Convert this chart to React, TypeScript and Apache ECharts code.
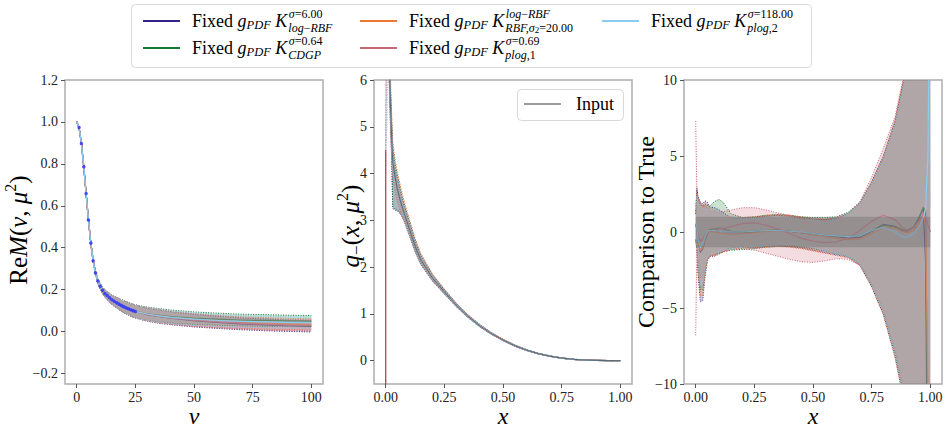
import React, { useEffect, useRef } from "react";
import * as echarts from "echarts";

const SERIF = "'Liberation Serif', 'DejaVu Serif', serif";
const KERNEL_COLORS = ["#332288", "#117733", "#EE7733", "#CC6677", "#88CCEE"];

// ---------- Left panel: Re M(nu, mu^2) ----------
const L_NU = [0, 1, 2, 3, 4, 5, 6, 7, 8, 9, 10, 11, 12, 13, 14, 15, 16, 17, 18, 19, 20, 21, 22, 23, 24, 25, 30, 35, 40, 50, 60, 70, 80, 90, 100];
const L_HEAD = [1.0, 0.973, 0.897, 0.786, 0.659, 0.532, 0.422, 0.338, 0.28, 0.241, 0.216, 0.197, 0.182, 0.172, 0.161, 0.152, 0.145, 0.138, 0.131, 0.125, 0.119, 0.114, 0.109, 0.104, 0.1, 0.096];
const L_TAIL_NAVY = [0.081, 0.072, 0.064, 0.052, 0.044, 0.037, 0.032, 0.028, 0.025];
const L_TAIL_GREEN = [0.085, 0.078, 0.072, 0.064, 0.059, 0.055, 0.053, 0.051, 0.05];
const L_TAIL_ORANGE = [0.083, 0.074, 0.066, 0.056, 0.048, 0.043, 0.039, 0.036, 0.034];
const L_TAIL_PINK = [0.082, 0.073, 0.065, 0.054, 0.046, 0.04, 0.035, 0.031, 0.029];
const L_TAIL_LIGHTBLUE = [0.084, 0.075, 0.068, 0.059, 0.053, 0.049, 0.046, 0.044, 0.043];
const L_ERR = [0.003, 0.003, 0.004, 0.004, 0.005, 0.006, 0.007, 0.008, 0.009, 0.011, 0.013, 0.015, 0.017, 0.019, 0.021, 0.023, 0.024, 0.025, 0.026, 0.027, 0.028, 0.029, 0.03, 0.03, 0.031, 0.031, 0.032, 0.032, 0.031, 0.03, 0.029, 0.028, 0.028, 0.027, 0.027];
const L_DOT_NU = [1, 2, 3, 4, 5, 6, 7, 8, 9, 10, 11, 12, 13, 14, 15, 16, 17, 18, 19, 20, 21, 22, 23, 24, 25];
const L_DOT_VAL = [0.973, 0.897, 0.786, 0.659, 0.532, 0.422, 0.338, 0.28, 0.241, 0.216, 0.197, 0.182, 0.172, 0.161, 0.152, 0.145, 0.138, 0.131, 0.125, 0.119, 0.114, 0.109, 0.104, 0.1, 0.096];
const L_X_TICKS = [0, 25, 50, 75, 100];
const L_Y_TICKS = [-0.2, 0, 0.2, 0.4, 0.6, 0.8, 1.0, 1.2];

// ---------- Middle panel: q_-(x, mu^2) ----------
const M_X = [0, 0.005, 0.01, 0.015, 0.02, 0.025, 0.03, 0.04, 0.05, 0.06, 0.07, 0.08, 0.1, 0.125, 0.15, 0.2, 0.25, 0.3, 0.35, 0.4, 0.45, 0.5, 0.55, 0.6, 0.65, 0.7, 0.75, 0.8, 0.85, 0.9, 0.95, 1.0];
const M_INPUT = [12, 9.5, 7.6, 6.4, 5.5, 4.8, 4.25, 3.92, 3.66, 3.46, 3.29, 3.13, 2.83, 2.45, 2.15, 1.76, 1.47, 1.19, 0.95, 0.75, 0.58, 0.44, 0.32, 0.225, 0.15, 0.095, 0.055, 0.028, 0.012, 0.004, 0.001, 0];
const M_NAVY_HI = [13, 10, 8, 6.7, 5.8, 5.1, 4.5, 4.15, 3.9, 3.68, 3.48, 3.3, 2.97, 2.56, 2.24, 1.82, 1.51, 1.22, 0.97, 0.77, 0.595, 0.45, 0.33, 0.232, 0.155, 0.099, 0.058, 0.03, 0.013, 0.005, 0.0015, 0.0005];
const M_NAVY_LO = [11, 9, 7.2, 6.1, 5.2, 4.4, 3.25, 3.22, 3.2, 3.15, 3.08, 2.98, 2.7, 2.34, 2.06, 1.7, 1.43, 1.16, 0.93, 0.73, 0.565, 0.43, 0.31, 0.218, 0.145, 0.091, 0.052, 0.026, 0.011, 0.003, 0.0005, -0.0005];
const M_GREEN_HI = [13, 10, 8, 6.8, 5.85, 5.15, 4.55, 4.2, 3.95, 3.72, 3.5, 3.32, 2.99, 2.58, 2.26, 1.83, 1.52, 1.23, 0.98, 0.775, 0.6, 0.455, 0.335, 0.234, 0.157, 0.1, 0.059, 0.031, 0.014, 0.005, 0.0015, 0.0005];
const M_GREEN_LO = [11, 9, 7.3, 6.1, 5.2, 4.45, 3.3, 3.24, 3.21, 3.18, 3.1, 3.0, 2.71, 2.35, 2.07, 1.71, 1.43, 1.16, 0.93, 0.73, 0.565, 0.43, 0.31, 0.218, 0.145, 0.091, 0.052, 0.026, 0.011, 0.003, 0.0005, -0.0005];
const M_ORANGE_HI = [13.5, 10.5, 8.4, 7.0, 6.05, 5.35, 4.7, 4.3, 4.02, 3.8, 3.58, 3.4, 3.05, 2.62, 2.29, 1.85, 1.53, 1.235, 0.985, 0.78, 0.605, 0.46, 0.338, 0.236, 0.158, 0.101, 0.06, 0.031, 0.014, 0.005, 0.0015, 0.0005];
const M_ORANGE_LO = [10.5, 8.8, 7.0, 5.9, 5.1, 4.5, 4.0, 3.7, 3.45, 3.28, 3.12, 2.98, 2.7, 2.34, 2.06, 1.7, 1.43, 1.16, 0.93, 0.73, 0.565, 0.43, 0.31, 0.218, 0.145, 0.091, 0.052, 0.026, 0.011, 0.003, 0.0005, -0.0005];
const M_PINK_HI = [4.5, 9.8, 7.9, 6.6, 5.7, 5.0, 4.45, 4.1, 3.85, 3.64, 3.45, 3.28, 2.95, 2.55, 2.24, 1.83, 1.52, 1.23, 0.98, 0.775, 0.6, 0.455, 0.335, 0.234, 0.157, 0.1, 0.059, 0.031, 0.014, 0.005, 0.0015, 0.0005];
const M_PINK_LO = [4.0, 8.8, 7.0, 5.9, 5.0, 4.35, 3.9, 3.6, 3.4, 3.22, 3.06, 2.94, 2.68, 2.33, 2.05, 1.69, 1.42, 1.15, 0.92, 0.72, 0.56, 0.425, 0.305, 0.215, 0.143, 0.09, 0.051, 0.025, 0.01, 0.003, 0.0005, -0.0005];
const M_LIGHTBLUE_HI = [6.5, 10, 8, 6.7, 5.8, 5.1, 4.5, 4.15, 3.9, 3.68, 3.48, 3.3, 2.97, 2.56, 2.24, 1.82, 1.51, 1.22, 0.97, 0.77, 0.595, 0.45, 0.33, 0.232, 0.155, 0.099, 0.058, 0.03, 0.013, 0.005, 0.0015, 0.0005];
const M_LIGHTBLUE_LO = [4.5, 5.0, 6.6, 6.0, 5.2, 4.5, 4.0, 3.7, 3.45, 3.28, 3.12, 2.98, 2.7, 2.34, 2.06, 1.7, 1.43, 1.16, 0.93, 0.73, 0.565, 0.43, 0.31, 0.218, 0.145, 0.091, 0.052, 0.026, 0.011, 0.003, 0.0005, -0.0005];
const M_PINK_EDGE_X = [0, 0];
const M_PINK_EDGE_Y = [-0.6, 4.5];
const M_X_TICKS = [0, 0.25, 0.5, 0.75, 1.0];
const M_Y_TICKS = [0, 1, 2, 3, 4, 5, 6];

// ---------- Right panel: comparison to true ----------
const R_X = [0, 0.005, 0.01, 0.02, 0.03, 0.04, 0.05, 0.06, 0.08, 0.1, 0.12, 0.15, 0.2, 0.25, 0.3, 0.35, 0.4, 0.45, 0.5, 0.55, 0.6, 0.65, 0.7, 0.75, 0.8, 0.85, 0.88, 0.9, 0.93, 0.95, 0.97, 0.98, 0.99, 1.0];
const R_NAVY_MEAN = [0.5, 0.3, -0.6, -1.3, -1.1, -0.5, -0.1, 0.1, 0.1, 0.05, 0.0, -0.05, -0.05, 0.0, 0.1, 0.12, 0.05, -0.05, -0.15, -0.25, -0.3, -0.4, -0.35, 0.05, 0.5, 0.35, 0.1, 0.05, 0.3, 0.8, 1.6, -2, -20, -40];
const R_NAVY_HI = [1.2, 2.9, 2.3, 1.95, 1.85, 2.05, 1.95, 1.65, 1.6, 1.45, 1.25, 0.95, 0.9, 0.95, 1.05, 1.1, 1.05, 0.95, 0.85, 0.8, 0.9, 1.2, 1.9, 3.3, 5.0, 7.3, 9.5, 11, 15, 20, 28, 35, 40, 45];
const R_NAVY_LO = [-0.5, -1.0, -2.8, -4.6, -4.5, -2.9, -1.9, -1.6, -1.6, -1.45, -1.25, -1.05, -1.0, -1.05, -0.95, -0.9, -0.95, -1.05, -1.2, -1.35, -1.5, -1.65, -2.2, -3.6, -5.4, -8.2, -10.5, -12, -16, -22, -30, -38, -45, -50];
const R_GREEN_MEAN = [0.5, 0.2, -0.5, -1.0, -0.9, -0.4, 0.0, 0.15, 0.2, 0.25, 0.2, 0.05, 0.0, 0.05, 0.1, 0.1, 0.05, -0.05, -0.1, -0.2, -0.25, -0.3, -0.25, 0.05, 0.45, 0.35, 0.15, 0.1, 0.35, 0.9, 1.6, 1.4, -15, -40];
const R_GREEN_HI = [1.2, 2.7, 2.2, 1.8, 1.7, 1.8, 1.75, 1.7, 2.0, 2.15, 1.9, 1.2, 0.95, 1.0, 1.1, 1.15, 1.1, 1.0, 0.95, 0.95, 1.0, 1.3, 1.95, 3.2, 4.9, 7.2, 9.4, 11, 15, 20, 28, 35, 40, 45];
const R_GREEN_LO = [-0.5, -1.0, -2.5, -3.8, -3.8, -2.6, -1.8, -1.6, -1.5, -1.4, -1.3, -1.2, -1.15, -1.1, -1.0, -0.95, -0.95, -1.0, -1.1, -1.25, -1.45, -1.6, -2.1, -3.5, -5.3, -8.0, -10.3, -12, -16, -22, -30, -38, -45, -50];
const R_ORANGE_MEAN = [0.5, 0.2, -0.7, -1.2, -1.0, -0.4, -0.05, 0.05, 0.0, -0.05, -0.1, -0.15, -0.1, -0.05, 0.05, 0.1, 0.05, -0.05, -0.15, -0.3, -0.4, -0.5, -0.45, -0.1, 0.3, 0.25, 0.05, -0.05, 0.1, 0.5, 1.2, 0.5, -10, -30];
const R_ORANGE_HI = [1.3, 2.6, 2.2, 1.85, 1.75, 1.9, 1.8, 1.55, 1.45, 1.3, 1.15, 1.0, 0.95, 1.0, 1.1, 1.15, 1.1, 1.0, 0.9, 0.85, 0.9, 1.2, 1.85, 3.25, 5.0, 7.4, 9.6, 11, 15, 20, 28, 35, 40, 45];
const R_ORANGE_LO = [-0.6, -1.1, -2.6, -4.2, -4.2, -2.7, -1.9, -1.6, -1.55, -1.45, -1.3, -1.15, -1.05, -1.05, -1.0, -0.95, -1.0, -1.1, -1.25, -1.4, -1.55, -1.7, -2.2, -3.6, -5.5, -8.3, -10.6, -12, -16, -22, -30, -38, -45, -50];
const R_PINK_MEAN = [0.5, 0.3, -0.3, -0.6, -0.5, -0.2, 0.0, 0.1, 0.15, 0.2, 0.25, 0.35, 0.55, 0.6, 0.45, 0.2, -0.1, -0.4, -0.6, -0.7, -0.65, -0.4, 0.1, 0.7, 1.1, 0.8, 0.3, 0.1, 0.3, 0.7, 1.2, 1.0, 0.5, 0.0];
const R_PINK_HI = [7.3, 2.6, 2.3, 1.9, 1.7, 1.7, 1.6, 1.4, 1.35, 1.3, 1.35, 1.45, 1.6, 1.6, 1.45, 1.25, 1.1, 0.95, 0.85, 0.85, 0.95, 1.25, 2.0, 3.6, 5.5, 7.6, 9.8, 11, 15, 20, 28, 35, 40, 45];
const R_PINK_LO = [-6.8, -1.2, -2.0, -3.0, -3.0, -2.3, -1.8, -1.6, -1.5, -1.4, -1.3, -1.15, -1.1, -1.2, -1.4, -1.6, -1.8, -1.95, -2.0, -1.9, -1.75, -1.8, -2.2, -3.4, -5.2, -7.8, -10, -12, -16, -22, -30, -38, -45, -50];
const R_LIGHTBLUE_MEAN = [0.6, 0.3, -0.5, -1.0, -0.8, -0.3, 0.05, 0.1, 0.1, 0.05, 0.0, 0.0, 0.0, 0.05, 0.1, 0.1, 0.05, 0.0, -0.1, -0.2, -0.25, -0.3, -0.25, 0.1, 0.3, 0.0, -0.3, -0.35, -0.1, 0.3, 0.9, 1.5, 5, 20];
const R_LIGHTBLUE_HI = [1.5, 2.4, 2.0, 1.6, 1.5, 1.6, 1.55, 1.45, 1.4, 1.3, 1.15, 1.0, 0.9, 0.9, 0.95, 1.0, 0.9, 0.75, 0.85, 0.6, 0.9, 1.2, 1.9, 3.2, 4.9, 7.2, 9.3, 11, 15, 20, 28, 35, 40, 1.5];
const R_LIGHTBLUE_LO = [-0.3, -1.0, -2.4, -3.5, -3.3, -2.3, -1.7, -1.5, -1.4, -1.3, -1.2, -1.1, -1.0, -0.95, -0.9, -0.85, -0.8, -0.9, -1.0, -1.25, -1.45, -1.6, -2.1, -3.5, -5.3, -8.1, -10.4, -12, -16, -22, -30, -38, -45, -50];
const R_BAND_X = [0, 1];
const R_BAND_Y = [-1, 1];
const R_Y_TICKS = [-10, -5, 0, 5, 10];

// ---------- legend text ----------
const LEGEND_SUP = ["{i|σ}{n|=6.00}", "{i|σ}{n|=0.64}", "{i|log}{n|−}{i|RBF}", "{i|σ}{n|=0.69}", "{i|σ}{n|=118.00}"];
const LEGEND_SUB = ["{i|log}{n|−}{i|RBF}", "{i|CDGP}", "{i|RBF,σ}{ss|2}{n|=20.00}", "{i|plog}{n|,1}", "{i|plog}{n|,2}"];

const fmtMinus = (s: string) => s.replace("-", "−");

function bandSeries(idx: number, xs: number[], mean: number[], lo: number[], hi: number[], color: string) {
  return {
    type: "custom",
    xAxisIndex: idx,
    yAxisIndex: idx,
    silent: true,
    z: 2,
    data: [[xs[0], 0]],
    renderItem: (params: any, api: any) => {
      const cs = params.coordSys;
      const top = xs.map((x, i) => api.coord([x, hi[i]]));
      const bot = xs.map((x, i) => api.coord([x, lo[i]]));
      const mid = xs.map((x, i) => api.coord([x, mean[i]]));
      return {
        type: "group",
        clipPath: { type: "rect", shape: { x: cs.x, y: cs.y, width: cs.width, height: cs.height } },
        children: [
          { type: "polygon", shape: { points: top.concat(bot.slice().reverse()) }, style: { fill: color, opacity: 0.22 } },
          { type: "polyline", shape: { points: top }, style: { stroke: color, lineWidth: 1, lineDash: [1, 1.5], fill: null } },
          { type: "polyline", shape: { points: bot }, style: { stroke: color, lineWidth: 1, lineDash: [1, 1.5], fill: null } },
          { type: "polyline", shape: { points: mid }, style: { stroke: color, lineWidth: 1.2, fill: null } },
        ],
      };
    },
  };
}

function axisPair(idx: number, xmin: number, xmax: number, xt: number[], xf: (v: number) => string, ymin: number, ymax: number, yt: number[], yf: (v: number) => string) {
  const common = {
    type: "value",
    gridIndex: idx,
    splitLine: { show: false },
    axisLine: { show: false, onZero: false },
  };
  const label = { fontFamily: SERIF, fontSize: 14, color: "#222", lineHeight: 14 };
  return {
    x: {
      ...common,
      min: xmin,
      max: xmax,
      axisTick: { show: true, length: 4, lineStyle: { color: "#555" }, customValues: xt },
      axisLabel: { ...label, margin: 6, customValues: xt, formatter: xf },
    },
    y: {
      ...common,
      min: ymin,
      max: ymax,
      axisTick: { show: true, length: 4, lineStyle: { color: "#555" }, customValues: yt },
      axisLabel: { ...label, margin: 7, customValues: yt, formatter: yf },
    },
  };
}

export default function App() {
  const ref = useRef<HTMLDivElement>(null);
  useEffect(() => {
    if (!ref.current) return;
    const chart = echarts.init(ref.current, null, { renderer: "svg", width: 947, height: 429 });

    const lMeans = [L_TAIL_NAVY, L_TAIL_GREEN, L_TAIL_ORANGE, L_TAIL_PINK, L_TAIL_LIGHTBLUE].map((t) => L_HEAD.concat(t));
    const mHi = [M_NAVY_HI, M_GREEN_HI, M_ORANGE_HI, M_PINK_HI, M_LIGHTBLUE_HI];
    const mLo = [M_NAVY_LO, M_GREEN_LO, M_ORANGE_LO, M_PINK_LO, M_LIGHTBLUE_LO];
    const rMean = [R_NAVY_MEAN, R_GREEN_MEAN, R_ORANGE_MEAN, R_PINK_MEAN, R_LIGHTBLUE_MEAN];
    const rHi = [R_NAVY_HI, R_GREEN_HI, R_ORANGE_HI, R_PINK_HI, R_LIGHTBLUE_HI];
    const rLo = [R_NAVY_LO, R_GREEN_LO, R_ORANGE_LO, R_PINK_LO, R_LIGHTBLUE_LO];

    const series: any[] = [];
    KERNEL_COLORS.forEach((c, k) => {
      const m = lMeans[k];
      series.push(bandSeries(0, L_NU, m, m.map((v, i) => v - L_ERR[i]), m.map((v, i) => v + L_ERR[i]), c));
    });
    series.push({
      type: "scatter",
      xAxisIndex: 0,
      yAxisIndex: 0,
      z: 5,
      symbolSize: 3.5,
      itemStyle: { color: "#2a2aff" },
      data: L_DOT_NU.map((n, i) => [n, L_DOT_VAL[i]]),
    });
    KERNEL_COLORS.forEach((c, k) => {
      series.push(bandSeries(1, M_X, M_INPUT, mLo[k], mHi[k], c));
    });
    series.push({
      type: "line",
      xAxisIndex: 1,
      yAxisIndex: 1,
      z: 4,
      showSymbol: false,
      clip: true,
      lineStyle: { color: "rgba(70,70,70,0.75)", width: 1 },
      data: M_X.map((x, i) => [x, M_INPUT[i]]),
    });
    series.push({
      type: "line",
      xAxisIndex: 1,
      yAxisIndex: 1,
      z: 4,
      showSymbol: false,
      clip: true,
      lineStyle: { color: "#a33a4f", width: 1.2 },
      data: M_PINK_EDGE_X.map((x, i) => [x, M_PINK_EDGE_Y[i]]),
    });
    KERNEL_COLORS.forEach((c, k) => {
      series.push(bandSeries(2, R_X, rMean[k], rLo[k], rHi[k], c));
    });
    series.push({
      type: "custom",
      xAxisIndex: 2,
      yAxisIndex: 2,
      silent: true,
      z: 3,
      data: [[0, 0]],
      renderItem: (params: any, api: any) => {
        const p0 = api.coord([R_BAND_X[0], R_BAND_Y[1]]);
        const p1 = api.coord([R_BAND_X[1], R_BAND_Y[0]]);
        return {
          type: "rect",
          shape: { x: p0[0], y: p0[1], width: p1[0] - p0[0], height: p1[1] - p0[1] },
          style: { fill: "rgba(105,105,105,0.38)" },
        };
      },
    });

    const a0 = axisPair(0, -5, 105, L_X_TICKS, (v) => String(v), -0.25, 1.2, L_Y_TICKS, (v) => fmtMinus(v.toFixed(1)));
    const a1 = axisPair(1, -0.05, 1.05, M_X_TICKS, (v) => v.toFixed(2), -0.5, 6, M_Y_TICKS, (v) => String(v));
    const a2 = axisPair(2, -0.05, 1.05, M_X_TICKS, (v) => v.toFixed(2), -10, 10, R_Y_TICKS, (v) => fmtMinus(String(v)));

    const gridBase = { show: true, borderColor: "#adadad", borderWidth: 1.5, backgroundColor: "transparent", top: 80, height: 304, width: 258 };

    // ---- legend graphics ----
    const ctx = document.createElement("canvas").getContext("2d") as CanvasRenderingContext2D;
    const tw = (s: string, f: string) => {
      ctx.font = f;
      return ctx.measureText(s).width;
    };
    const mainW =
      tw("Fixed ", `18px ${SERIF}`) + tw("g", `italic 18px ${SERIF}`) + tw("PDF", `italic 12.5px ${SERIF}`) + tw(" ", `18px ${SERIF}`) + tw("K", `italic 18px ${SERIF}`);
    const richMain = {
      n: { fontFamily: SERIF, fontSize: 18, fill: "#000", lineHeight: 18 },
      i: { fontFamily: SERIF, fontSize: 18, fontStyle: "italic", fill: "#000", lineHeight: 18 },
      b: { fontFamily: SERIF, fontSize: 12.5, fontStyle: "italic", fill: "#000", padding: [8, 0, 0, 0], lineHeight: 10 },
    };
    const richSmall = {
      n: { fontFamily: SERIF, fontSize: 12, fill: "#000", lineHeight: 10 },
      i: { fontFamily: SERIF, fontSize: 12, fontStyle: "italic", fill: "#000", lineHeight: 10 },
      ss: { fontFamily: SERIF, fontSize: 9, fontStyle: "normal", fill: "#000", padding: [4, 0, 0, 0], lineHeight: 6 },
    };
    const legendPos = [
      [143, 21],
      [143, 48],
      [360, 21],
      [360, 48],
      [602, 21],
    ];
    const graphics: any[] = [
      {
        type: "rect",
        z: 100,
        shape: { x: 131.5, y: 4.5, width: 680, height: 63, r: 4 },
        style: { fill: "rgba(255,255,255,0.85)", stroke: "#d8d8d8", lineWidth: 1 },
      },
    ];
    legendPos.forEach(([x, y], k) => {
      const tx = x + 49;
      graphics.push({ type: "line", z: 101, shape: { x1: x, y1: y, x2: x + 37, y2: y }, style: { stroke: KERNEL_COLORS[k], lineWidth: 2 } });
      graphics.push({
        type: "text",
        z: 101,
        x: tx,
        y: y,
        style: { text: "{n|Fixed }{i|g}{b|PDF}{n| }{i|K}", rich: richMain, align: "left", verticalAlign: "middle" },
      });
      graphics.push({
        type: "text",
        z: 101,
        x: tx + mainW + 1.5,
        y: y - 7,
        style: { text: LEGEND_SUP[k], rich: richSmall, align: "left", verticalAlign: "middle" },
      });
      graphics.push({
        type: "text",
        z: 101,
        x: tx + mainW + 1,
        y: y + 6.5,
        style: { text: LEGEND_SUB[k], rich: richSmall, align: "left", verticalAlign: "middle" },
      });
    });
    // Input legend
    graphics.push({
      type: "rect",
      z: 100,
      shape: { x: 517.5, y: 89.5, width: 106, height: 31, r: 4 },
      style: { fill: "rgba(255,255,255,0.85)", stroke: "#d8d8d8", lineWidth: 1 },
    });
    graphics.push({ type: "line", z: 101, shape: { x1: 524, y1: 104, x2: 561, y2: 104 }, style: { stroke: "rgba(90,90,90,0.8)", lineWidth: 1.5 } });
    graphics.push({ type: "text", z: 101, x: 576, y: 104, style: { text: "Input", font: `18px ${SERIF}`, fill: "#000", align: "left", verticalAlign: "middle" } });

    // Axis titles
    const bigRich = {
      n: { fontFamily: SERIF, fontSize: 25, fill: "#000" },
      i: { fontFamily: SERIF, fontSize: 25, fontStyle: "italic", fill: "#000" },
      s: { fontFamily: SERIF, fontSize: 16, fill: "#000", padding: [0, 0, 16, 0] },
      b: { fontFamily: SERIF, fontSize: 17, fill: "#000", padding: [12, 0, 0, 0] },
    };
    graphics.push({
      type: "text",
      x: 18,
      y: 230,
      rotation: Math.PI / 2,
      style: { text: "{n|Re}{i|M}{n|(}{i|ν}{n|, }{i|μ}{s|2}{n|)}", rich: bigRich, align: "center", verticalAlign: "middle" },
    });
    graphics.push({
      type: "text",
      x: 350,
      y: 226,
      rotation: Math.PI / 2,
      style: { text: "{i|q}{b|−}{n|(}{i|x}{n|, }{i|μ}{s|2}{n|)}", rich: bigRich, align: "center", verticalAlign: "middle" },
    });
    graphics.push({
      type: "text",
      x: 646,
      y: 232,
      rotation: Math.PI / 2,
      style: { text: "Comparison to True", font: `24px ${SERIF}`, fill: "#000", align: "center", verticalAlign: "middle" },
    });
    [
      [194, "ν"],
      [503, "x"],
      [813, "x"],
    ].forEach(([x, t]) => {
      graphics.push({
        type: "text",
        x: x as number,
        y: 416,
        style: { text: t as string, font: `italic 24px ${SERIF}`, lineHeight: 18, fill: "#000", align: "center", verticalAlign: "middle" },
      });
    });

    chart.setOption({
      animation: false,
      backgroundColor: "#ffffff",
      textStyle: { fontFamily: SERIF },
      grid: [
        { ...gridBase, left: 65 },
        { ...gridBase, left: 374 },
        { ...gridBase, left: 684 },
      ],
      xAxis: [a0.x, a1.x, a2.x],
      yAxis: [a0.y, a1.y, a2.y],
      series,
      graphic: graphics,
    });
    return () => chart.dispose();
  }, []);
  return <div ref={ref} style={{ position: "fixed", left: 0, top: 0, width: 947, height: 429 }} />;
}
